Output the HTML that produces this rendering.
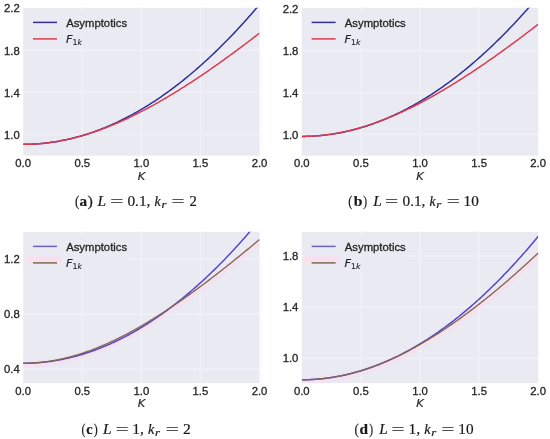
<!DOCTYPE html>
<html><head><meta charset="utf-8"><style>
html,body{margin:0;padding:0;background:#fff;}
svg{display:block;}
.tk{font-family:"Liberation Sans",sans-serif;font-size:11.3px;fill:#262626;stroke:#262626;stroke-width:0.3px;}
.lg{font-family:"Liberation Sans",sans-serif;font-size:11.3px;fill:#262626;stroke:#262626;stroke-width:0.3px;}
.mt{font-family:"DejaVu Sans",sans-serif;font-size:11.3px;fill:#262626;stroke:#262626;stroke-width:0.2px;}
.cap{font-family:"Liberation Serif",serif;fill:#1a1a1a;stroke:#1a1a1a;stroke-width:0.2px;}
</style></head><body>
<svg width="550" height="439" viewBox="0 0 550 439">
<rect width="550" height="439" fill="#fff"/>
<clipPath id="clipa"><rect x="23.2" y="7.8" width="236.30" height="147.90"/></clipPath>
<rect x="23.2" y="7.8" width="236.30" height="147.90" fill="#eaeaf2"/>
<g stroke="#f0f0f9" stroke-width="1.7"><line x1="82.28" y1="7.8" x2="82.28" y2="155.7"/><line x1="141.35" y1="7.8" x2="141.35" y2="155.7"/><line x1="200.43" y1="7.8" x2="200.43" y2="155.7"/><line x1="23.2" y1="50.3" x2="259.5" y2="50.3"/><line x1="23.2" y1="92.4" x2="259.5" y2="92.4"/><line x1="23.2" y1="134.5" x2="259.5" y2="134.5"/></g>
<rect x="26.2" y="10.8" width="104" height="37" rx="2" fill="#eaeaf2" opacity="0.75"/>
<g clip-path="url(#clipa)" fill="none" stroke-width="1.5"><path d="M23.20,144.33 L24.69,144.33 L26.17,144.31 L27.66,144.28 L29.14,144.25 L30.63,144.20 L32.12,144.13 L33.60,144.06 L35.09,143.98 L36.58,143.89 L38.06,143.78 L39.55,143.67 L41.03,143.54 L42.52,143.40 L44.01,143.25 L45.49,143.09 L46.98,142.92 L48.46,142.74 L49.95,142.54 L51.44,142.34 L52.92,142.12 L54.41,141.90 L55.90,141.66 L57.38,141.41 L58.87,141.15 L60.35,140.88 L61.84,140.60 L63.33,140.30 L64.81,140.00 L66.30,139.69 L67.78,139.36 L69.27,139.02 L70.76,138.67 L72.24,138.31 L73.73,137.94 L75.22,137.56 L76.70,137.17 L78.19,136.77 L79.67,136.35 L81.16,135.93 L82.65,135.49 L84.13,135.04 L85.62,134.58 L87.11,134.11 L88.59,133.63 L90.08,133.14 L91.56,132.64 L93.05,132.12 L94.54,131.60 L96.02,131.06 L97.51,130.51 L98.99,129.96 L100.48,129.39 L101.97,128.81 L103.45,128.21 L104.94,127.61 L106.43,127.00 L107.91,126.37 L109.40,125.74 L110.88,125.09 L112.37,124.43 L113.86,123.76 L115.34,123.08 L116.83,122.39 L118.31,121.69 L119.80,120.98 L121.29,120.25 L122.77,119.52 L124.26,118.77 L125.75,118.02 L127.23,117.25 L128.72,116.47 L130.20,115.68 L131.69,114.88 L133.18,114.06 L134.66,113.24 L136.15,112.40 L137.63,111.56 L139.12,110.70 L140.61,109.83 L142.09,108.96 L143.58,108.07 L145.07,107.16 L146.55,106.25 L148.04,105.33 L149.52,104.39 L151.01,103.45 L152.50,102.49 L153.98,101.53 L155.47,100.55 L156.95,99.56 L158.44,98.56 L159.93,97.55 L161.41,96.52 L162.90,95.49 L164.39,94.44 L165.87,93.39 L167.36,92.32 L168.84,91.24 L170.33,90.16 L171.82,89.06 L173.30,87.94 L174.79,86.82 L176.27,85.69 L177.76,84.54 L179.25,83.39 L180.73,82.22 L182.22,81.05 L183.71,79.86 L185.19,78.66 L186.68,77.45 L188.16,76.22 L189.65,74.99 L191.14,73.75 L192.62,72.49 L194.11,71.23 L195.59,69.95 L197.08,68.66 L198.57,67.36 L200.05,66.05 L201.54,64.73 L203.03,63.40 L204.51,62.06 L206.00,60.70 L207.48,59.34 L208.97,57.96 L210.46,56.57 L211.94,55.17 L213.43,53.76 L214.92,52.34 L216.40,50.91 L217.89,49.47 L219.37,48.02 L220.86,46.55 L222.35,45.08 L223.83,43.59 L225.32,42.09 L226.80,40.58 L228.29,39.06 L229.78,37.53 L231.26,35.99 L232.75,34.43 L234.24,32.87 L235.72,31.29 L237.21,29.71 L238.69,28.11 L240.18,26.50 L241.67,24.88 L243.15,23.25 L244.64,21.61 L246.12,19.96 L247.61,18.29 L249.10,16.62 L250.58,14.93 L252.07,13.23 L253.56,11.53 L255.04,9.81 L256.53,8.08 L258.01,6.34 L259.50,4.58" stroke="#30309a"/><path d="M23.20,144.33 L24.69,144.33 L26.17,144.31 L27.66,144.28 L29.14,144.24 L30.63,144.19 L32.12,144.13 L33.60,144.06 L35.09,143.98 L36.58,143.88 L38.06,143.77 L39.55,143.66 L41.03,143.53 L42.52,143.39 L44.01,143.24 L45.49,143.08 L46.98,142.90 L48.46,142.72 L49.95,142.53 L51.44,142.32 L52.92,142.10 L54.41,141.88 L55.90,141.64 L57.38,141.39 L58.87,141.13 L60.35,140.86 L61.84,140.58 L63.33,140.29 L64.81,139.99 L66.30,139.67 L67.78,139.35 L69.27,139.02 L70.76,138.67 L72.24,138.32 L73.73,137.96 L75.22,137.58 L76.70,137.20 L78.19,136.80 L79.67,136.40 L81.16,135.98 L82.65,135.56 L84.13,135.12 L85.62,134.68 L87.11,134.22 L88.59,133.76 L90.08,133.29 L91.56,132.80 L93.05,132.31 L94.54,131.81 L96.02,131.30 L97.51,130.78 L98.99,130.25 L100.48,129.71 L101.97,129.16 L103.45,128.60 L104.94,128.04 L106.43,127.46 L107.91,126.88 L109.40,126.29 L110.88,125.68 L112.37,125.07 L113.86,124.46 L115.34,123.83 L116.83,123.19 L118.31,122.55 L119.80,121.90 L121.29,121.24 L122.77,120.57 L124.26,119.89 L125.75,119.21 L127.23,118.52 L128.72,117.82 L130.20,117.11 L131.69,116.39 L133.18,115.67 L134.66,114.94 L136.15,114.20 L137.63,113.46 L139.12,112.70 L140.61,111.94 L142.09,111.18 L143.58,110.40 L145.07,109.62 L146.55,108.83 L148.04,108.04 L149.52,107.24 L151.01,106.43 L152.50,105.61 L153.98,104.79 L155.47,103.96 L156.95,103.13 L158.44,102.28 L159.93,101.44 L161.41,100.58 L162.90,99.72 L164.39,98.85 L165.87,97.98 L167.36,97.10 L168.84,96.22 L170.33,95.33 L171.82,94.43 L173.30,93.53 L174.79,92.62 L176.27,91.70 L177.76,90.79 L179.25,89.86 L180.73,88.93 L182.22,87.99 L183.71,87.05 L185.19,86.11 L186.68,85.15 L188.16,84.20 L189.65,83.23 L191.14,82.27 L192.62,81.29 L194.11,80.32 L195.59,79.33 L197.08,78.35 L198.57,77.35 L200.05,76.36 L201.54,75.36 L203.03,74.35 L204.51,73.34 L206.00,72.32 L207.48,71.30 L208.97,70.28 L210.46,69.25 L211.94,68.22 L213.43,67.18 L214.92,66.14 L216.40,65.09 L217.89,64.04 L219.37,62.99 L220.86,61.93 L222.35,60.87 L223.83,59.80 L225.32,58.73 L226.80,57.66 L228.29,56.58 L229.78,55.50 L231.26,54.41 L232.75,53.32 L234.24,52.23 L235.72,51.13 L237.21,50.03 L238.69,48.93 L240.18,47.82 L241.67,46.71 L243.15,45.60 L244.64,44.48 L246.12,43.36 L247.61,42.23 L249.10,41.11 L250.58,39.97 L252.07,38.84 L253.56,37.70 L255.04,36.56 L256.53,35.42 L258.01,34.27 L259.50,33.12" stroke="#dc3a50"/></g>
<line x1="33.00" y1="22.40" x2="57.00" y2="22.40" stroke="#30309a" stroke-width="1.5"/>
<line x1="33.00" y1="38.90" x2="57.00" y2="38.90" stroke="#dc3a50" stroke-width="1.5"/>
<text x="66.20" y="26.70" class="lg">Asymptotics</text>
<text x="66.00" y="42.90" class="mt"><tspan font-style="italic">F</tspan><tspan font-size="7.8" dy="2.3" font-style="normal" stroke-width="0.1">1</tspan><tspan font-size="7.8" font-style="italic" stroke-width="0.1">k</tspan></text>
<text x="19.80" y="12.30" class="tk" text-anchor="end">2.2</text>
<text x="19.80" y="54.70" class="tk" text-anchor="end">1.8</text>
<text x="19.80" y="96.80" class="tk" text-anchor="end">1.4</text>
<text x="19.80" y="138.90" class="tk" text-anchor="end">1.0</text>
<text x="23.20" y="167.40" class="tk" text-anchor="middle">0.0</text>
<text x="82.28" y="167.40" class="tk" text-anchor="middle">0.5</text>
<text x="141.35" y="167.40" class="tk" text-anchor="middle">1.0</text>
<text x="200.43" y="167.40" class="tk" text-anchor="middle">1.5</text>
<text x="259.50" y="167.40" class="tk" text-anchor="middle">2.0</text>
<text x="141.35" y="179.80" class="mt" text-anchor="middle" font-style="italic">K</text>
<text x="75.08" y="205.50" class="cap" font-size="15.2" textLength="4.32" lengthAdjust="spacingAndGlyphs">(</text>
<text x="79.64" y="205.70" class="cap" font-size="14.6" font-weight="bold" textLength="7.61" lengthAdjust="spacingAndGlyphs">a</text>
<text x="87.42" y="205.50" class="cap" font-size="15.2" textLength="5.38" lengthAdjust="spacingAndGlyphs">)</text>
<text x="97.61" y="205.70" class="cap" font-size="14.6" font-style="italic" textLength="8.60" lengthAdjust="spacingAndGlyphs">L</text>
<text x="110.17" y="205.70" class="cap" font-size="14.6" textLength="13.16" lengthAdjust="spacingAndGlyphs">=</text>
<text x="127.44" y="205.70" class="cap" font-size="14.6" textLength="22.98" lengthAdjust="spacingAndGlyphs">0.1,</text>
<text x="154.52" y="205.70" class="cap" font-size="14.6" font-style="italic" textLength="6.15" lengthAdjust="spacingAndGlyphs">k</text>
<text x="161.49" y="207.90" class="cap" font-size="10.5" font-style="italic" textLength="4.97" lengthAdjust="spacingAndGlyphs">r</text>
<text x="171.58" y="205.70" class="cap" font-size="14.6" textLength="12.92" lengthAdjust="spacingAndGlyphs">=</text>
<text x="189.41" y="205.70" class="cap" font-size="14.6" textLength="7.32" lengthAdjust="spacingAndGlyphs">2</text>
<clipPath id="clipb"><rect x="301.8" y="7.8" width="236.40" height="147.90"/></clipPath>
<rect x="301.8" y="7.8" width="236.40" height="147.90" fill="#eaeaf2"/>
<g stroke="#f0f0f9" stroke-width="1.7"><line x1="360.90" y1="7.8" x2="360.90" y2="155.7"/><line x1="420.00" y1="7.8" x2="420.00" y2="155.7"/><line x1="479.10" y1="7.8" x2="479.10" y2="155.7"/><line x1="301.8" y1="50.6" x2="538.2" y2="50.6"/><line x1="301.8" y1="92.9" x2="538.2" y2="92.9"/><line x1="301.8" y1="134.3" x2="538.2" y2="134.3"/></g>
<rect x="304.8" y="10.8" width="104" height="37" rx="2" fill="#eaeaf2" opacity="0.75"/>
<g clip-path="url(#clipb)" fill="none" stroke-width="1.5"><path d="M301.80,136.42 L303.29,136.42 L304.77,136.40 L306.26,136.37 L307.75,136.33 L309.23,136.28 L310.72,136.22 L312.21,136.15 L313.69,136.07 L315.18,135.97 L316.67,135.87 L318.15,135.75 L319.64,135.63 L321.13,135.49 L322.62,135.34 L324.10,135.18 L325.59,135.01 L327.08,134.82 L328.56,134.63 L330.05,134.43 L331.54,134.21 L333.02,133.98 L334.51,133.75 L336.00,133.50 L337.48,133.24 L338.97,132.97 L340.46,132.69 L341.94,132.39 L343.43,132.09 L344.92,131.77 L346.40,131.45 L347.89,131.11 L349.38,130.76 L350.86,130.40 L352.35,130.03 L353.84,129.65 L355.32,129.26 L356.81,128.85 L358.30,128.44 L359.78,128.01 L361.27,127.58 L362.76,127.13 L364.25,126.67 L365.73,126.20 L367.22,125.72 L368.71,125.23 L370.19,124.73 L371.68,124.21 L373.17,123.69 L374.65,123.15 L376.14,122.60 L377.63,122.05 L379.11,121.48 L380.60,120.90 L382.09,120.30 L383.57,119.70 L385.06,119.09 L386.55,118.46 L388.03,117.83 L389.52,117.18 L391.01,116.52 L392.49,115.86 L393.98,115.18 L395.47,114.48 L396.95,113.78 L398.44,113.07 L399.93,112.35 L401.42,111.61 L402.90,110.86 L404.39,110.11 L405.88,109.34 L407.36,108.56 L408.85,107.77 L410.34,106.97 L411.82,106.16 L413.31,105.33 L414.80,104.50 L416.28,103.65 L417.77,102.80 L419.26,101.93 L420.74,101.05 L422.23,100.16 L423.72,99.26 L425.20,98.35 L426.69,97.42 L428.18,96.49 L429.66,95.54 L431.15,94.59 L432.64,93.62 L434.12,92.64 L435.61,91.65 L437.10,90.65 L438.58,89.64 L440.07,88.62 L441.56,87.59 L443.05,86.54 L444.53,85.48 L446.02,84.42 L447.51,83.34 L448.99,82.25 L450.48,81.15 L451.97,80.04 L453.45,78.92 L454.94,77.79 L456.43,76.64 L457.91,75.49 L459.40,74.32 L460.89,73.14 L462.37,71.95 L463.86,70.76 L465.35,69.55 L466.83,68.32 L468.32,67.09 L469.81,65.85 L471.29,64.59 L472.78,63.33 L474.27,62.05 L475.75,60.76 L477.24,59.46 L478.73,58.15 L480.22,56.83 L481.70,55.50 L483.19,54.16 L484.68,52.80 L486.16,51.44 L487.65,50.06 L489.14,48.68 L490.62,47.28 L492.11,45.87 L493.60,44.45 L495.08,43.02 L496.57,41.57 L498.06,40.12 L499.54,38.65 L501.03,37.18 L502.52,35.69 L504.00,34.19 L505.49,32.69 L506.98,31.17 L508.46,29.63 L509.95,28.09 L511.44,26.54 L512.92,24.98 L514.41,23.40 L515.90,21.81 L517.38,20.22 L518.87,18.61 L520.36,16.99 L521.85,15.36 L523.33,13.72 L524.82,12.06 L526.31,10.40 L527.79,8.73 L529.28,7.04 L530.77,5.34 L532.25,3.64 L533.74,1.92 L535.23,0.19 L536.71,-1.55 L538.20,-3.31" stroke="#30309a"/><path d="M301.80,136.42 L303.29,136.42 L304.77,136.40 L306.26,136.37 L307.75,136.33 L309.23,136.28 L310.72,136.21 L312.21,136.14 L313.69,136.05 L315.18,135.96 L316.67,135.85 L318.15,135.73 L319.64,135.60 L321.13,135.45 L322.62,135.30 L324.10,135.13 L325.59,134.96 L327.08,134.77 L328.56,134.57 L330.05,134.36 L331.54,134.14 L333.02,133.91 L334.51,133.66 L336.00,133.41 L337.48,133.14 L338.97,132.87 L340.46,132.58 L341.94,132.28 L343.43,131.98 L344.92,131.66 L346.40,131.33 L347.89,130.99 L349.38,130.63 L350.86,130.27 L352.35,129.90 L353.84,129.52 L355.32,129.13 L356.81,128.72 L358.30,128.31 L359.78,127.89 L361.27,127.45 L362.76,127.01 L364.25,126.56 L365.73,126.09 L367.22,125.62 L368.71,125.14 L370.19,124.64 L371.68,124.14 L373.17,123.63 L374.65,123.11 L376.14,122.58 L377.63,122.04 L379.11,121.49 L380.60,120.93 L382.09,120.37 L383.57,119.79 L385.06,119.21 L386.55,118.61 L388.03,118.01 L389.52,117.40 L391.01,116.78 L392.49,116.15 L393.98,115.51 L395.47,114.87 L396.95,114.21 L398.44,113.55 L399.93,112.88 L401.42,112.20 L402.90,111.52 L404.39,110.82 L405.88,110.12 L407.36,109.41 L408.85,108.69 L410.34,107.97 L411.82,107.23 L413.31,106.49 L414.80,105.75 L416.28,104.99 L417.77,104.23 L419.26,103.46 L420.74,102.68 L422.23,101.90 L423.72,101.11 L425.20,100.31 L426.69,99.51 L428.18,98.70 L429.66,97.88 L431.15,97.05 L432.64,96.22 L434.12,95.38 L435.61,94.54 L437.10,93.69 L438.58,92.83 L440.07,91.97 L441.56,91.10 L443.05,90.23 L444.53,89.35 L446.02,88.46 L447.51,87.57 L448.99,86.67 L450.48,85.77 L451.97,84.86 L453.45,83.94 L454.94,83.02 L456.43,82.09 L457.91,81.16 L459.40,80.22 L460.89,79.28 L462.37,78.33 L463.86,77.38 L465.35,76.42 L466.83,75.46 L468.32,74.49 L469.81,73.52 L471.29,72.54 L472.78,71.56 L474.27,70.57 L475.75,69.58 L477.24,68.58 L478.73,67.58 L480.22,66.57 L481.70,65.56 L483.19,64.55 L484.68,63.53 L486.16,62.50 L487.65,61.48 L489.14,60.44 L490.62,59.41 L492.11,58.37 L493.60,57.32 L495.08,56.27 L496.57,55.22 L498.06,54.16 L499.54,53.10 L501.03,52.04 L502.52,50.97 L504.00,49.90 L505.49,48.82 L506.98,47.74 L508.46,46.66 L509.95,45.57 L511.44,44.48 L512.92,43.39 L514.41,42.29 L515.90,41.19 L517.38,40.08 L518.87,38.98 L520.36,37.87 L521.85,36.75 L523.33,35.63 L524.82,34.51 L526.31,33.39 L527.79,32.26 L529.28,31.13 L530.77,30.00 L532.25,28.86 L533.74,27.72 L535.23,26.58 L536.71,25.43 L538.20,24.29" stroke="#dc3a50"/></g>
<line x1="311.60" y1="22.40" x2="335.60" y2="22.40" stroke="#30309a" stroke-width="1.5"/>
<line x1="311.60" y1="38.90" x2="335.60" y2="38.90" stroke="#dc3a50" stroke-width="1.5"/>
<text x="344.80" y="26.70" class="lg">Asymptotics</text>
<text x="344.60" y="42.90" class="mt"><tspan font-style="italic">F</tspan><tspan font-size="7.8" dy="2.3" font-style="normal" stroke-width="0.1">1</tspan><tspan font-size="7.8" font-style="italic" stroke-width="0.1">k</tspan></text>
<text x="298.40" y="12.60" class="tk" text-anchor="end">2.2</text>
<text x="298.40" y="55.00" class="tk" text-anchor="end">1.8</text>
<text x="298.40" y="97.30" class="tk" text-anchor="end">1.4</text>
<text x="298.40" y="138.70" class="tk" text-anchor="end">1.0</text>
<text x="301.80" y="167.40" class="tk" text-anchor="middle">0.0</text>
<text x="360.90" y="167.40" class="tk" text-anchor="middle">0.5</text>
<text x="420.00" y="167.40" class="tk" text-anchor="middle">1.0</text>
<text x="479.10" y="167.40" class="tk" text-anchor="middle">1.5</text>
<text x="538.20" y="167.40" class="tk" text-anchor="middle">2.0</text>
<text x="420.00" y="179.80" class="mt" text-anchor="middle" font-style="italic">K</text>
<text x="348.31" y="205.50" class="cap" font-size="15.2" textLength="4.07" lengthAdjust="spacingAndGlyphs">(</text>
<text x="353.74" y="205.70" class="cap" font-size="14.6" font-weight="bold" textLength="8.72" lengthAdjust="spacingAndGlyphs">b</text>
<text x="363.15" y="205.50" class="cap" font-size="15.2" textLength="3.84" lengthAdjust="spacingAndGlyphs">)</text>
<text x="373.31" y="205.70" class="cap" font-size="14.6" font-style="italic" textLength="8.60" lengthAdjust="spacingAndGlyphs">L</text>
<text x="385.07" y="205.70" class="cap" font-size="14.6" textLength="13.16" lengthAdjust="spacingAndGlyphs">=</text>
<text x="402.54" y="205.70" class="cap" font-size="14.6" textLength="22.87" lengthAdjust="spacingAndGlyphs">0.1,</text>
<text x="429.52" y="205.70" class="cap" font-size="14.6" font-style="italic" textLength="6.15" lengthAdjust="spacingAndGlyphs">k</text>
<text x="436.39" y="207.90" class="cap" font-size="10.5" font-style="italic" textLength="4.97" lengthAdjust="spacingAndGlyphs">r</text>
<text x="446.68" y="205.70" class="cap" font-size="14.6" textLength="13.04" lengthAdjust="spacingAndGlyphs">=</text>
<text x="463.58" y="205.70" class="cap" font-size="14.6" textLength="15.28" lengthAdjust="spacingAndGlyphs">10</text>
<clipPath id="clipc"><rect x="23.2" y="231.8" width="236.30" height="151.30"/></clipPath>
<rect x="23.2" y="231.8" width="236.30" height="151.30" fill="#eaeaf2"/>
<g stroke="#f0f0f9" stroke-width="1.7"><line x1="82.28" y1="231.8" x2="82.28" y2="383.1"/><line x1="141.35" y1="231.8" x2="141.35" y2="383.1"/><line x1="200.43" y1="231.8" x2="200.43" y2="383.1"/><line x1="23.2" y1="259.1" x2="259.5" y2="259.1"/><line x1="23.2" y1="314.3" x2="259.5" y2="314.3"/><line x1="23.2" y1="369.3" x2="259.5" y2="369.3"/></g>
<rect x="26.2" y="234.8" width="104" height="37" rx="2" fill="#eaeaf2" opacity="0.75"/>
<g clip-path="url(#clipc)" fill="none"><path d="M23.20,363.26 L24.69,363.25 L26.17,363.24 L27.66,363.20 L29.14,363.16 L30.63,363.10 L32.12,363.03 L33.60,362.94 L35.09,362.85 L36.58,362.74 L38.06,362.61 L39.55,362.48 L41.03,362.33 L42.52,362.17 L44.01,362.00 L45.49,361.81 L46.98,361.61 L48.46,361.40 L49.95,361.17 L51.44,360.94 L52.92,360.69 L54.41,360.43 L55.90,360.15 L57.38,359.87 L58.87,359.57 L60.35,359.26 L61.84,358.93 L63.33,358.60 L64.81,358.25 L66.30,357.89 L67.78,357.52 L69.27,357.14 L70.76,356.74 L72.24,356.33 L73.73,355.92 L75.22,355.49 L76.70,355.05 L78.19,354.59 L79.67,354.13 L81.16,353.65 L82.65,353.17 L84.13,352.67 L85.62,352.16 L87.11,351.64 L88.59,351.11 L90.08,350.57 L91.56,350.02 L93.05,349.45 L94.54,348.88 L96.02,348.30 L97.51,347.70 L98.99,347.10 L100.48,346.49 L101.97,345.86 L103.45,345.23 L104.94,344.58 L106.43,343.93 L107.91,343.26 L109.40,342.59 L110.88,341.91 L112.37,341.22 L113.86,340.51 L115.34,339.80 L116.83,339.08 L118.31,338.35 L119.80,337.62 L121.29,336.87 L122.77,336.11 L124.26,335.35 L125.75,334.58 L127.23,333.79 L128.72,333.00 L130.20,332.21 L131.69,331.40 L133.18,330.58 L134.66,329.76 L136.15,328.93 L137.63,328.09 L139.12,327.24 L140.61,326.39 L142.09,325.53 L143.58,324.66 L145.07,323.78 L146.55,322.90 L148.04,322.00 L149.52,321.11 L151.01,320.20 L152.50,319.29 L153.98,318.37 L155.47,317.44 L156.95,316.50 L158.44,315.56 L159.93,314.62 L161.41,313.66 L162.90,312.70 L164.39,311.74 L165.87,310.76 L167.36,309.78 L168.84,308.80 L170.33,307.81 L171.82,306.81 L173.30,305.80 L174.79,304.79 L176.27,303.78 L177.76,302.76 L179.25,301.73 L180.73,300.70 L182.22,299.66 L183.71,298.62 L185.19,297.57 L186.68,296.51 L188.16,295.45 L189.65,294.39 L191.14,293.32 L192.62,292.24 L194.11,291.16 L195.59,290.08 L197.08,288.99 L198.57,287.89 L200.05,286.79 L201.54,285.69 L203.03,284.58 L204.51,283.46 L206.00,282.34 L207.48,281.22 L208.97,280.09 L210.46,278.96 L211.94,277.83 L213.43,276.69 L214.92,275.54 L216.40,274.39 L217.89,273.24 L219.37,272.08 L220.86,270.92 L222.35,269.76 L223.83,268.59 L225.32,267.41 L226.80,266.24 L228.29,265.06 L229.78,263.87 L231.26,262.68 L232.75,261.49 L234.24,260.30 L235.72,259.10 L237.21,257.90 L238.69,256.69 L240.18,255.48 L241.67,254.27 L243.15,253.05 L244.64,251.83 L246.12,250.61 L247.61,249.38 L249.10,248.15 L250.58,246.92 L252.07,245.69 L253.56,244.45 L255.04,243.21 L256.53,241.96 L258.01,240.71 L259.50,239.46" stroke="#f8dcec" stroke-width="7" opacity="0.6" transform="translate(0.8,1.2)"/><path d="M23.20,363.26 L24.69,363.26 L26.17,363.24 L27.66,363.21 L29.14,363.17 L30.63,363.12 L32.12,363.06 L33.60,362.98 L35.09,362.90 L36.58,362.80 L38.06,362.70 L39.55,362.58 L41.03,362.45 L42.52,362.31 L44.01,362.15 L45.49,361.99 L46.98,361.81 L48.46,361.63 L49.95,361.43 L51.44,361.22 L52.92,361.00 L54.41,360.77 L55.90,360.52 L57.38,360.27 L58.87,360.00 L60.35,359.73 L61.84,359.44 L63.33,359.14 L64.81,358.83 L66.30,358.50 L67.78,358.17 L69.27,357.83 L70.76,357.47 L72.24,357.10 L73.73,356.72 L75.22,356.33 L76.70,355.93 L78.19,355.52 L79.67,355.09 L81.16,354.66 L82.65,354.21 L84.13,353.75 L85.62,353.28 L87.11,352.80 L88.59,352.31 L90.08,351.81 L91.56,351.29 L93.05,350.77 L94.54,350.23 L96.02,349.68 L97.51,349.12 L98.99,348.55 L100.48,347.97 L101.97,347.37 L103.45,346.77 L104.94,346.15 L106.43,345.52 L107.91,344.88 L109.40,344.23 L110.88,343.57 L112.37,342.90 L113.86,342.21 L115.34,341.52 L116.83,340.81 L118.31,340.09 L119.80,339.36 L121.29,338.62 L122.77,337.87 L124.26,337.11 L125.75,336.33 L127.23,335.55 L128.72,334.75 L130.20,333.94 L131.69,333.12 L133.18,332.29 L134.66,331.45 L136.15,330.59 L137.63,329.73 L139.12,328.85 L140.61,327.96 L142.09,327.06 L143.58,326.15 L145.07,325.23 L146.55,324.30 L148.04,323.35 L149.52,322.40 L151.01,321.43 L152.50,320.45 L153.98,319.46 L155.47,318.46 L156.95,317.45 L158.44,316.42 L159.93,315.39 L161.41,314.34 L162.90,313.28 L164.39,312.21 L165.87,311.13 L167.36,310.04 L168.84,308.94 L170.33,307.83 L171.82,306.70 L173.30,305.56 L174.79,304.42 L176.27,303.26 L177.76,302.08 L179.25,300.90 L180.73,299.71 L182.22,298.50 L183.71,297.29 L185.19,296.06 L186.68,294.82 L188.16,293.57 L189.65,292.31 L191.14,291.04 L192.62,289.75 L194.11,288.46 L195.59,287.15 L197.08,285.84 L198.57,284.51 L200.05,283.17 L201.54,281.81 L203.03,280.45 L204.51,279.08 L206.00,277.69 L207.48,276.29 L208.97,274.88 L210.46,273.47 L211.94,272.03 L213.43,270.59 L214.92,269.14 L216.40,267.67 L217.89,266.20 L219.37,264.71 L220.86,263.21 L222.35,261.70 L223.83,260.18 L225.32,258.65 L226.80,257.10 L228.29,255.55 L229.78,253.98 L231.26,252.40 L232.75,250.81 L234.24,249.21 L235.72,247.60 L237.21,245.98 L238.69,244.34 L240.18,242.70 L241.67,241.04 L243.15,239.37 L244.64,237.69 L246.12,236.00 L247.61,234.30 L249.10,232.58 L250.58,230.86 L252.07,229.12 L253.56,227.37 L255.04,225.61 L256.53,223.84 L258.01,222.06 L259.50,220.27" stroke="#5646cc" stroke-width="1.5"/><path d="M23.20,363.26 L24.69,363.25 L26.17,363.24 L27.66,363.20 L29.14,363.16 L30.63,363.10 L32.12,363.03 L33.60,362.94 L35.09,362.85 L36.58,362.74 L38.06,362.61 L39.55,362.48 L41.03,362.33 L42.52,362.17 L44.01,362.00 L45.49,361.81 L46.98,361.61 L48.46,361.40 L49.95,361.17 L51.44,360.94 L52.92,360.69 L54.41,360.43 L55.90,360.15 L57.38,359.87 L58.87,359.57 L60.35,359.26 L61.84,358.93 L63.33,358.60 L64.81,358.25 L66.30,357.89 L67.78,357.52 L69.27,357.14 L70.76,356.74 L72.24,356.33 L73.73,355.92 L75.22,355.49 L76.70,355.05 L78.19,354.59 L79.67,354.13 L81.16,353.65 L82.65,353.17 L84.13,352.67 L85.62,352.16 L87.11,351.64 L88.59,351.11 L90.08,350.57 L91.56,350.02 L93.05,349.45 L94.54,348.88 L96.02,348.30 L97.51,347.70 L98.99,347.10 L100.48,346.49 L101.97,345.86 L103.45,345.23 L104.94,344.58 L106.43,343.93 L107.91,343.26 L109.40,342.59 L110.88,341.91 L112.37,341.22 L113.86,340.51 L115.34,339.80 L116.83,339.08 L118.31,338.35 L119.80,337.62 L121.29,336.87 L122.77,336.11 L124.26,335.35 L125.75,334.58 L127.23,333.79 L128.72,333.00 L130.20,332.21 L131.69,331.40 L133.18,330.58 L134.66,329.76 L136.15,328.93 L137.63,328.09 L139.12,327.24 L140.61,326.39 L142.09,325.53 L143.58,324.66 L145.07,323.78 L146.55,322.90 L148.04,322.00 L149.52,321.11 L151.01,320.20 L152.50,319.29 L153.98,318.37 L155.47,317.44 L156.95,316.50 L158.44,315.56 L159.93,314.62 L161.41,313.66 L162.90,312.70 L164.39,311.74 L165.87,310.76 L167.36,309.78 L168.84,308.80 L170.33,307.81 L171.82,306.81 L173.30,305.80 L174.79,304.79 L176.27,303.78 L177.76,302.76 L179.25,301.73 L180.73,300.70 L182.22,299.66 L183.71,298.62 L185.19,297.57 L186.68,296.51 L188.16,295.45 L189.65,294.39 L191.14,293.32 L192.62,292.24 L194.11,291.16 L195.59,290.08 L197.08,288.99 L198.57,287.89 L200.05,286.79 L201.54,285.69 L203.03,284.58 L204.51,283.46 L206.00,282.34 L207.48,281.22 L208.97,280.09 L210.46,278.96 L211.94,277.83 L213.43,276.69 L214.92,275.54 L216.40,274.39 L217.89,273.24 L219.37,272.08 L220.86,270.92 L222.35,269.76 L223.83,268.59 L225.32,267.41 L226.80,266.24 L228.29,265.06 L229.78,263.87 L231.26,262.68 L232.75,261.49 L234.24,260.30 L235.72,259.10 L237.21,257.90 L238.69,256.69 L240.18,255.48 L241.67,254.27 L243.15,253.05 L244.64,251.83 L246.12,250.61 L247.61,249.38 L249.10,248.15 L250.58,246.92 L252.07,245.69 L253.56,244.45 L255.04,243.21 L256.53,241.96 L258.01,240.71 L259.50,239.46" stroke="#7e6a52" stroke-width="1.35"/></g>
<line x1="33.00" y1="246.40" x2="57.00" y2="246.40" stroke="#6a62c4" stroke-width="1.5"/>
<rect x="25.20" y="256.40" width="36" height="7" fill="#f9e0ee" opacity="0.9"/>
<line x1="33.00" y1="262.90" x2="57.00" y2="262.90" stroke="#7e6a52" stroke-width="1.5"/>
<text x="66.20" y="250.70" class="lg">Asymptotics</text>
<text x="66.00" y="266.90" class="mt"><tspan font-style="italic">F</tspan><tspan font-size="7.8" dy="2.3" font-style="normal" stroke-width="0.1">1</tspan><tspan font-size="7.8" font-style="italic" stroke-width="0.1">k</tspan></text>
<text x="19.80" y="263.10" class="tk" text-anchor="end">1.2</text>
<text x="19.80" y="318.30" class="tk" text-anchor="end">0.8</text>
<text x="19.80" y="373.30" class="tk" text-anchor="end">0.4</text>
<text x="23.20" y="394.60" class="tk" text-anchor="middle">0.0</text>
<text x="82.28" y="394.60" class="tk" text-anchor="middle">0.5</text>
<text x="141.35" y="394.60" class="tk" text-anchor="middle">1.0</text>
<text x="200.43" y="394.60" class="tk" text-anchor="middle">1.5</text>
<text x="259.50" y="394.60" class="tk" text-anchor="middle">2.0</text>
<text x="141.35" y="407.20" class="mt" text-anchor="middle" font-style="italic">K</text>
<text x="81.53" y="433.80" class="cap" font-size="15.2" textLength="3.95" lengthAdjust="spacingAndGlyphs">(</text>
<text x="86.27" y="434.00" class="cap" font-size="14.6" font-weight="bold" textLength="6.37" lengthAdjust="spacingAndGlyphs">c</text>
<text x="93.64" y="433.80" class="cap" font-size="15.2" textLength="3.97" lengthAdjust="spacingAndGlyphs">)</text>
<text x="103.11" y="434.00" class="cap" font-size="14.6" font-style="italic" textLength="8.60" lengthAdjust="spacingAndGlyphs">L</text>
<text x="115.68" y="434.00" class="cap" font-size="14.6" textLength="12.92" lengthAdjust="spacingAndGlyphs">=</text>
<text x="132.25" y="434.00" class="cap" font-size="14.6" textLength="11.68" lengthAdjust="spacingAndGlyphs">1,</text>
<text x="148.01" y="434.00" class="cap" font-size="14.6" font-style="italic" textLength="6.36" lengthAdjust="spacingAndGlyphs">k</text>
<text x="155.09" y="436.20" class="cap" font-size="10.5" font-style="italic" textLength="4.97" lengthAdjust="spacingAndGlyphs">r</text>
<text x="165.67" y="434.00" class="cap" font-size="14.6" textLength="13.04" lengthAdjust="spacingAndGlyphs">=</text>
<text x="182.98" y="434.00" class="cap" font-size="14.6" textLength="7.80" lengthAdjust="spacingAndGlyphs">2</text>
<clipPath id="clipd"><rect x="301.8" y="231.8" width="236.40" height="151.30"/></clipPath>
<rect x="301.8" y="231.8" width="236.40" height="151.30" fill="#eaeaf2"/>
<g stroke="#f0f0f9" stroke-width="1.7"><line x1="360.90" y1="231.8" x2="360.90" y2="383.1"/><line x1="420.00" y1="231.8" x2="420.00" y2="383.1"/><line x1="479.10" y1="231.8" x2="479.10" y2="383.1"/><line x1="301.8" y1="256.0" x2="538.2" y2="256.0"/><line x1="301.8" y1="307.1" x2="538.2" y2="307.1"/><line x1="301.8" y1="358.3" x2="538.2" y2="358.3"/></g>
<rect x="304.8" y="234.8" width="104" height="37" rx="2" fill="#eaeaf2" opacity="0.75"/>
<g clip-path="url(#clipd)" fill="none"><path d="M301.80,379.80 L303.29,379.79 L304.77,379.77 L306.26,379.74 L307.75,379.70 L309.23,379.65 L310.72,379.58 L312.21,379.51 L313.69,379.42 L315.18,379.32 L316.67,379.21 L318.15,379.09 L319.64,378.95 L321.13,378.81 L322.62,378.65 L324.10,378.48 L325.59,378.30 L327.08,378.11 L328.56,377.90 L330.05,377.69 L331.54,377.46 L333.02,377.22 L334.51,376.97 L336.00,376.71 L337.48,376.43 L338.97,376.15 L340.46,375.85 L341.94,375.55 L343.43,375.23 L344.92,374.90 L346.40,374.56 L347.89,374.20 L349.38,373.84 L350.86,373.47 L352.35,373.08 L353.84,372.68 L355.32,372.27 L356.81,371.86 L358.30,371.43 L359.78,370.98 L361.27,370.53 L362.76,370.07 L364.25,369.59 L365.73,369.11 L367.22,368.61 L368.71,368.11 L370.19,367.59 L371.68,367.06 L373.17,366.53 L374.65,365.98 L376.14,365.42 L377.63,364.85 L379.11,364.27 L380.60,363.68 L382.09,363.08 L383.57,362.47 L385.06,361.85 L386.55,361.21 L388.03,360.57 L389.52,359.92 L391.01,359.26 L392.49,358.59 L393.98,357.91 L395.47,357.21 L396.95,356.51 L398.44,355.80 L399.93,355.08 L401.42,354.35 L402.90,353.61 L404.39,352.86 L405.88,352.10 L407.36,351.33 L408.85,350.55 L410.34,349.77 L411.82,348.97 L413.31,348.16 L414.80,347.35 L416.28,346.52 L417.77,345.69 L419.26,344.85 L420.74,344.00 L422.23,343.14 L423.72,342.27 L425.20,341.39 L426.69,340.50 L428.18,339.61 L429.66,338.70 L431.15,337.79 L432.64,336.87 L434.12,335.94 L435.61,335.00 L437.10,334.06 L438.58,333.10 L440.07,332.14 L441.56,331.17 L443.05,330.19 L444.53,329.20 L446.02,328.21 L447.51,327.20 L448.99,326.19 L450.48,325.17 L451.97,324.15 L453.45,323.11 L454.94,322.07 L456.43,321.02 L457.91,319.96 L459.40,318.90 L460.89,317.83 L462.37,316.75 L463.86,315.66 L465.35,314.57 L466.83,313.46 L468.32,312.36 L469.81,311.24 L471.29,310.12 L472.78,308.99 L474.27,307.85 L475.75,306.71 L477.24,305.56 L478.73,304.40 L480.22,303.23 L481.70,302.06 L483.19,300.89 L484.68,299.70 L486.16,298.51 L487.65,297.31 L489.14,296.11 L490.62,294.90 L492.11,293.68 L493.60,292.46 L495.08,291.23 L496.57,290.00 L498.06,288.76 L499.54,287.51 L501.03,286.25 L502.52,285.00 L504.00,283.73 L505.49,282.46 L506.98,281.18 L508.46,279.90 L509.95,278.61 L511.44,277.32 L512.92,276.02 L514.41,274.71 L515.90,273.40 L517.38,272.08 L518.87,270.76 L520.36,269.43 L521.85,268.10 L523.33,266.76 L524.82,265.42 L526.31,264.07 L527.79,262.71 L529.28,261.36 L530.77,259.99 L532.25,258.62 L533.74,257.25 L535.23,255.87 L536.71,254.48 L538.20,253.09" stroke="#f8dcec" stroke-width="7" opacity="0.6" transform="translate(0.8,1.2)"/><path d="M301.80,379.80 L303.29,379.79 L304.77,379.77 L306.26,379.74 L307.75,379.70 L309.23,379.65 L310.72,379.59 L312.21,379.52 L313.69,379.43 L315.18,379.34 L316.67,379.23 L318.15,379.11 L319.64,378.98 L321.13,378.84 L322.62,378.68 L324.10,378.52 L325.59,378.34 L327.08,378.16 L328.56,377.96 L330.05,377.75 L331.54,377.53 L333.02,377.29 L334.51,377.05 L336.00,376.79 L337.48,376.53 L338.97,376.25 L340.46,375.96 L341.94,375.66 L343.43,375.35 L344.92,375.02 L346.40,374.69 L347.89,374.34 L349.38,373.99 L350.86,373.62 L352.35,373.24 L353.84,372.84 L355.32,372.44 L356.81,372.03 L358.30,371.60 L359.78,371.17 L361.27,370.72 L362.76,370.26 L364.25,369.79 L365.73,369.30 L367.22,368.81 L368.71,368.31 L370.19,367.79 L371.68,367.26 L373.17,366.72 L374.65,366.17 L376.14,365.61 L377.63,365.04 L379.11,364.45 L380.60,363.86 L382.09,363.25 L383.57,362.63 L385.06,362.00 L386.55,361.36 L388.03,360.71 L389.52,360.04 L391.01,359.37 L392.49,358.68 L393.98,357.98 L395.47,357.28 L396.95,356.55 L398.44,355.82 L399.93,355.08 L401.42,354.32 L402.90,353.56 L404.39,352.78 L405.88,351.99 L407.36,351.19 L408.85,350.38 L410.34,349.56 L411.82,348.72 L413.31,347.88 L414.80,347.02 L416.28,346.15 L417.77,345.27 L419.26,344.38 L420.74,343.48 L422.23,342.57 L423.72,341.64 L425.20,340.71 L426.69,339.76 L428.18,338.80 L429.66,337.83 L431.15,336.85 L432.64,335.86 L434.12,334.85 L435.61,333.84 L437.10,332.81 L438.58,331.77 L440.07,330.72 L441.56,329.66 L443.05,328.59 L444.53,327.50 L446.02,326.41 L447.51,325.30 L448.99,324.18 L450.48,323.06 L451.97,321.91 L453.45,320.76 L454.94,319.60 L456.43,318.42 L457.91,317.24 L459.40,316.04 L460.89,314.83 L462.37,313.61 L463.86,312.38 L465.35,311.14 L466.83,309.89 L468.32,308.62 L469.81,307.34 L471.29,306.06 L472.78,304.76 L474.27,303.45 L475.75,302.12 L477.24,300.79 L478.73,299.45 L480.22,298.09 L481.70,296.72 L483.19,295.34 L484.68,293.95 L486.16,292.55 L487.65,291.14 L489.14,289.71 L490.62,288.28 L492.11,286.83 L493.60,285.37 L495.08,283.90 L496.57,282.42 L498.06,280.93 L499.54,279.43 L501.03,277.91 L502.52,276.39 L504.00,274.85 L505.49,273.30 L506.98,271.74 L508.46,270.17 L509.95,268.58 L511.44,266.99 L512.92,265.38 L514.41,263.77 L515.90,262.14 L517.38,260.50 L518.87,258.85 L520.36,257.19 L521.85,255.51 L523.33,253.83 L524.82,252.13 L526.31,250.42 L527.79,248.70 L529.28,246.97 L530.77,245.23 L532.25,243.48 L533.74,241.71 L535.23,239.94 L536.71,238.15 L538.20,236.35" stroke="#5646cc" stroke-width="1.5"/><path d="M301.80,379.80 L303.29,379.79 L304.77,379.77 L306.26,379.74 L307.75,379.70 L309.23,379.65 L310.72,379.58 L312.21,379.51 L313.69,379.42 L315.18,379.32 L316.67,379.21 L318.15,379.09 L319.64,378.95 L321.13,378.81 L322.62,378.65 L324.10,378.48 L325.59,378.30 L327.08,378.11 L328.56,377.90 L330.05,377.69 L331.54,377.46 L333.02,377.22 L334.51,376.97 L336.00,376.71 L337.48,376.43 L338.97,376.15 L340.46,375.85 L341.94,375.55 L343.43,375.23 L344.92,374.90 L346.40,374.56 L347.89,374.20 L349.38,373.84 L350.86,373.47 L352.35,373.08 L353.84,372.68 L355.32,372.27 L356.81,371.86 L358.30,371.43 L359.78,370.98 L361.27,370.53 L362.76,370.07 L364.25,369.59 L365.73,369.11 L367.22,368.61 L368.71,368.11 L370.19,367.59 L371.68,367.06 L373.17,366.53 L374.65,365.98 L376.14,365.42 L377.63,364.85 L379.11,364.27 L380.60,363.68 L382.09,363.08 L383.57,362.47 L385.06,361.85 L386.55,361.21 L388.03,360.57 L389.52,359.92 L391.01,359.26 L392.49,358.59 L393.98,357.91 L395.47,357.21 L396.95,356.51 L398.44,355.80 L399.93,355.08 L401.42,354.35 L402.90,353.61 L404.39,352.86 L405.88,352.10 L407.36,351.33 L408.85,350.55 L410.34,349.77 L411.82,348.97 L413.31,348.16 L414.80,347.35 L416.28,346.52 L417.77,345.69 L419.26,344.85 L420.74,344.00 L422.23,343.14 L423.72,342.27 L425.20,341.39 L426.69,340.50 L428.18,339.61 L429.66,338.70 L431.15,337.79 L432.64,336.87 L434.12,335.94 L435.61,335.00 L437.10,334.06 L438.58,333.10 L440.07,332.14 L441.56,331.17 L443.05,330.19 L444.53,329.20 L446.02,328.21 L447.51,327.20 L448.99,326.19 L450.48,325.17 L451.97,324.15 L453.45,323.11 L454.94,322.07 L456.43,321.02 L457.91,319.96 L459.40,318.90 L460.89,317.83 L462.37,316.75 L463.86,315.66 L465.35,314.57 L466.83,313.46 L468.32,312.36 L469.81,311.24 L471.29,310.12 L472.78,308.99 L474.27,307.85 L475.75,306.71 L477.24,305.56 L478.73,304.40 L480.22,303.23 L481.70,302.06 L483.19,300.89 L484.68,299.70 L486.16,298.51 L487.65,297.31 L489.14,296.11 L490.62,294.90 L492.11,293.68 L493.60,292.46 L495.08,291.23 L496.57,290.00 L498.06,288.76 L499.54,287.51 L501.03,286.25 L502.52,285.00 L504.00,283.73 L505.49,282.46 L506.98,281.18 L508.46,279.90 L509.95,278.61 L511.44,277.32 L512.92,276.02 L514.41,274.71 L515.90,273.40 L517.38,272.08 L518.87,270.76 L520.36,269.43 L521.85,268.10 L523.33,266.76 L524.82,265.42 L526.31,264.07 L527.79,262.71 L529.28,261.36 L530.77,259.99 L532.25,258.62 L533.74,257.25 L535.23,255.87 L536.71,254.48 L538.20,253.09" stroke="#7e6a52" stroke-width="1.35"/></g>
<line x1="311.60" y1="246.40" x2="335.60" y2="246.40" stroke="#6a62c4" stroke-width="1.5"/>
<rect x="303.80" y="256.40" width="36" height="7" fill="#f9e0ee" opacity="0.9"/>
<line x1="311.60" y1="262.90" x2="335.60" y2="262.90" stroke="#7e6a52" stroke-width="1.5"/>
<text x="344.80" y="250.70" class="lg">Asymptotics</text>
<text x="344.60" y="266.90" class="mt"><tspan font-style="italic">F</tspan><tspan font-size="7.8" dy="2.3" font-style="normal" stroke-width="0.1">1</tspan><tspan font-size="7.8" font-style="italic" stroke-width="0.1">k</tspan></text>
<text x="298.40" y="260.00" class="tk" text-anchor="end">1.8</text>
<text x="298.40" y="311.10" class="tk" text-anchor="end">1.4</text>
<text x="298.40" y="362.30" class="tk" text-anchor="end">1.0</text>
<text x="301.80" y="394.60" class="tk" text-anchor="middle">0.0</text>
<text x="360.90" y="394.60" class="tk" text-anchor="middle">0.5</text>
<text x="420.00" y="394.60" class="tk" text-anchor="middle">1.0</text>
<text x="479.10" y="394.60" class="tk" text-anchor="middle">1.5</text>
<text x="538.20" y="394.60" class="tk" text-anchor="middle">2.0</text>
<text x="420.00" y="407.20" class="mt" text-anchor="middle" font-style="italic">K</text>
<text x="354.58" y="433.80" class="cap" font-size="15.2" textLength="4.32" lengthAdjust="spacingAndGlyphs">(</text>
<text x="359.49" y="434.00" class="cap" font-size="14.6" font-weight="bold" textLength="8.51" lengthAdjust="spacingAndGlyphs">d</text>
<text x="369.15" y="433.80" class="cap" font-size="15.2" textLength="3.84" lengthAdjust="spacingAndGlyphs">)</text>
<text x="379.30" y="434.00" class="cap" font-size="14.6" font-style="italic" textLength="8.39" lengthAdjust="spacingAndGlyphs">L</text>
<text x="391.48" y="434.00" class="cap" font-size="14.6" textLength="12.92" lengthAdjust="spacingAndGlyphs">=</text>
<text x="408.55" y="434.00" class="cap" font-size="14.6" textLength="11.68" lengthAdjust="spacingAndGlyphs">1,</text>
<text x="424.31" y="434.00" class="cap" font-size="14.6" font-style="italic" textLength="6.36" lengthAdjust="spacingAndGlyphs">k</text>
<text x="431.29" y="436.20" class="cap" font-size="10.5" font-style="italic" textLength="4.97" lengthAdjust="spacingAndGlyphs">r</text>
<text x="441.59" y="434.00" class="cap" font-size="14.6" textLength="12.81" lengthAdjust="spacingAndGlyphs">=</text>
<text x="458.38" y="434.00" class="cap" font-size="14.6" textLength="15.28" lengthAdjust="spacingAndGlyphs">10</text>
</svg>
</body></html>
